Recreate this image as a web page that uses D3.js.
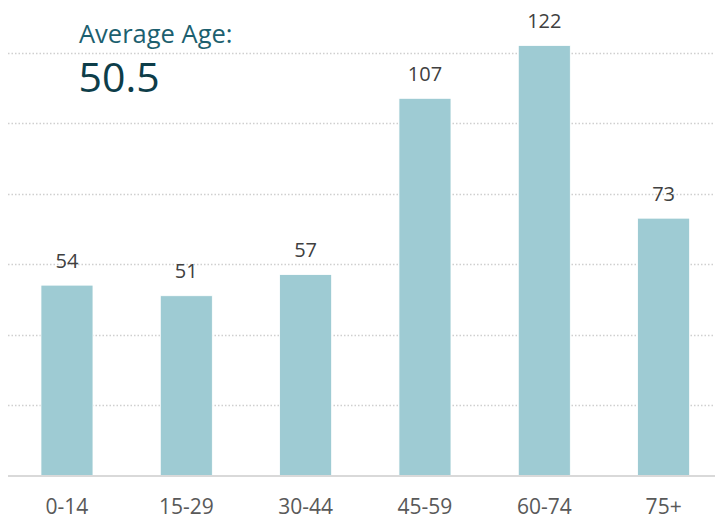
<!DOCTYPE html>
<html><head><meta charset="utf-8">
<script src="https://cdn.jsdelivr.net/npm/d3@7"></script>
<style>html,body{margin:0;padding:0;background:#fff;}svg{display:block;}</style>
</head><body>
<script>
const categories = ["0-14","15-29","30-44","45-59","60-74","75+"];
const values = [54,51,57,107,122,73];
const gridTicks = [20,40,60,80,100,120];
const titleLabel = "Average Age:";
const titleValue = "50.5";

const W = 715, H = 519;
const svg = d3.select("body").append("svg").attr("width", W).attr("height", H);
const font = "'Open Sans', sans-serif";

const x = d3.scaleBand().domain(categories).range([7.3, 723.3]).paddingInner(0.564).paddingOuter(0.282);
const y = d3.scaleLinear().domain([0,120]).range([475.5, 52.5]);

// gridlines
svg.append("g").selectAll("line").data(gridTicks).join("line")
  .attr("x1", 8).attr("x2", W)
  .attr("y1", d => Math.round(y(d)) + 0.5).attr("y2", d => Math.round(y(d)) + 0.5)
  .attr("stroke", "#cfcfcf").attr("stroke-width", 1.3).attr("stroke-dasharray", "1.5,2");

// bars
svg.append("g").selectAll("rect").data(values).join("rect")
  .attr("x", (d,i) => x(categories[i]))
  .attr("width", x.bandwidth())
  .attr("y", d => y(d))
  .attr("height", d => y(0) - y(d))
  .attr("fill", "#9ecbd3")
  .attr("stroke", "#ffffff").attr("stroke-width", 0.8);

// baseline
svg.append("line").attr("x1", 8).attr("x2", W).attr("y1", y(0) + 0.5).attr("y2", y(0) + 0.5)
  .attr("stroke", "#d9d9d9").attr("stroke-width", 2);

// data labels
svg.append("g").selectAll("text").data(values).join("text")
  .attr("x", (d,i) => x(categories[i]) + x.bandwidth()/2)
  .attr("y", d => y(d) - 17.5)
  .attr("text-anchor", "middle")
  .attr("font-family", font).attr("font-size", 20)
  .attr("fill", "#404040")
  .text(d => d);

// x axis labels
const xAxis = d3.axisBottom(x).tickSize(0).tickPadding(0);
const gx = svg.append("g").attr("transform", `translate(0,${514})`).call(xAxis);
gx.select(".domain").remove();
gx.selectAll("text").attr("dy", 0).attr("y", 0)
  .attr("font-family", font).attr("font-size", 21).attr("fill", "#595959");

// title
svg.append("text").attr("x", 79).attr("y", 42.7)
  .attr("font-family", font).attr("font-size", 25.5).attr("fill", "#1c5f6f")
  .text(titleLabel);
svg.append("text").attr("x", 78.5).attr("y", 91.7)
  .attr("font-family", font).attr("font-size", 41).attr("fill", "#0d3d49")
  .text(titleValue);
</script>
</body></html>
